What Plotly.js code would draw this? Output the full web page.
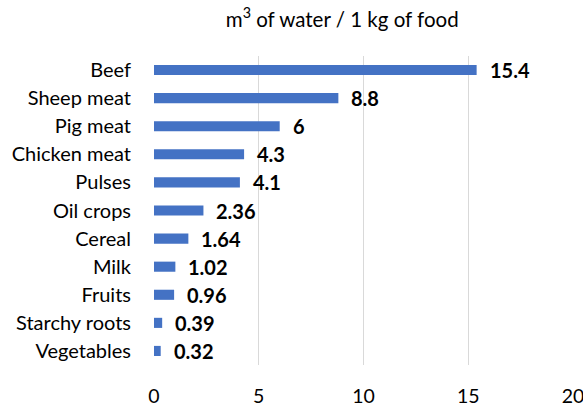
<!DOCTYPE html>
<html>
<head>
<meta charset="utf-8">
<script src="https://cdn.plot.ly/plotly-3.0.1.min.js"></script>
<style>html,body{margin:0;padding:0;background:#fff;}</style>
</head>
<body>
<div id="chart" style="width:583px;height:405px;"></div>
<script>
const categories = ["Beef","Sheep meat","Pig meat","Chicken meat","Pulses","Oil crops","Cereal","Milk","Fruits","Starchy roots","Vegetables"];
const values = [15.4, 8.8, 6, 4.3, 4.1, 2.36, 1.64, 1.02, 0.96, 0.39, 0.32];
const valueLabels = ["15.4","8.8","6","4.3","4.1","2.36","1.64","1.02","0.96","0.39","0.32"];
const xTicks = [0, 5, 10, 15, 20];

const FONT = "Lato, 'Noto Sans', sans-serif";

const trace = {
  type: "bar",
  orientation: "h",
  y: categories,
  x: values,
  marker: {color: "#4472C4"},
  hoverinfo: "none"
};

const annotations = categories.map((c, i) => ({
  x: values[i], y: c, xref: "x", yref: "y",
  text: "<b>" + valueLabels[i] + "</b>",
  showarrow: false, xanchor: "left", xshift: 11,
  font: {family: FONT, size: 20, color: "#000"}
}));

const layout = {
  width: 583, height: 405,
  margin: {l: 154, r: 10, t: 56, b: 40},
  paper_bgcolor: "#fff", plot_bgcolor: "#fff",
  showlegend: false,
  bargap: 0.64,
  title: {
    text: "m<sup>3</sup> of water / 1 kg of food",
    font: {family: FONT, size: 20.5, color: "#000"},
    x: 0.587, xanchor: "center", y: 0.951, yanchor: "middle"
  },
  xaxis: {
    range: [0, 20], tickvals: xTicks, ticktext: xTicks.map(String),
    showgrid: true, gridcolor: "#d9d9d9", gridwidth: 1,
    zeroline: false, showline: false, ticks: "",
    ticklabelstandoff: 17,
    ticklabeloverflow: "allow",
    tickfont: {family: FONT, size: 19.5, color: "#000"}
  },
  yaxis: {
    categoryorder: "array", categoryarray: categories.slice().reverse(),
    showgrid: false, zeroline: false, showline: false, ticks: "",
    ticklabelstandoff: 22,
    tickfont: {family: FONT, size: 20, color: "#000"}
  },
  annotations: annotations,
  font: {family: FONT}
};

Plotly.newPlot("chart", [trace], layout, {staticPlot: true, displayModeBar: false});
</script>
</body>
</html>
